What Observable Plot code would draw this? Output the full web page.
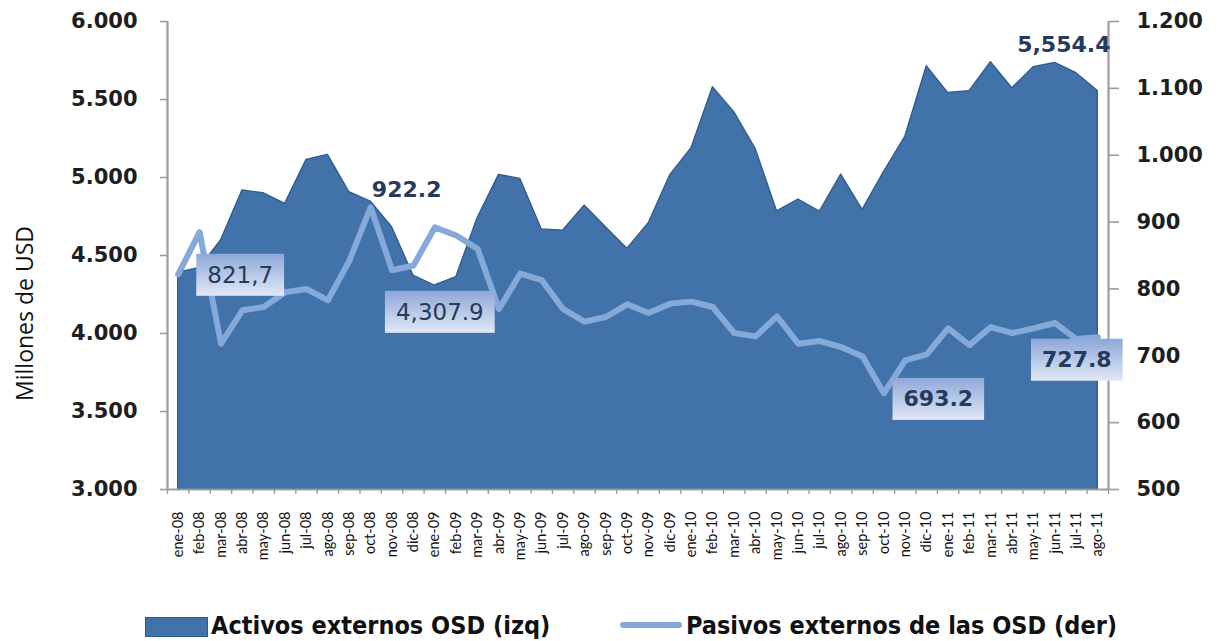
<!DOCTYPE html>
<html>
<head>
<meta charset="utf-8">
<script src="https://cdn.jsdelivr.net/npm/d3@7"></script>
<script src="https://cdn.jsdelivr.net/npm/@observablehq/plot@0.6"></script>
<style>
  html, body { margin: 0; padding: 0; background: #ffffff; }
  #wrap { position: relative; width: 1223px; height: 641px; overflow: hidden; }
  #chart { position: absolute; left: 0; top: 0; }
  .yax text { font-family: "DejaVu Sans", Verdana, sans-serif; font-size: 21px; font-weight: bold; fill: #1e1e1e; }
  .xax text { font-family: Lato, "DejaVu Sans Condensed", sans-serif; font-size: 14.5px; fill: #111; }
  .leg { position: absolute; top: 611px; font-family: "Liberation Sans Narrow", "DejaVu Sans Condensed", sans-serif; font-weight: bold; font-size: 25px; color: #111; white-space: nowrap; line-height: 30px; }
  .sw { position: absolute; }
</style>
</head>
<body>
<div id="wrap">
  <div id="chart"></div>
  <div class="sw" style="left:145px; top:617px; width:63px; height:20px; background:#4172aa; border:1px solid #2f5b8c; box-sizing:border-box;"></div>
  <div class="leg" id="leg1" style="left:211px;">Activos externos OSD (izq)</div>
  <div class="sw" style="left:620px; top:622px; width:62px; height:6px; background:#85aad9; border-radius:3px;"></div>
  <div class="leg" id="leg2" style="left:686px;">Pasivos externos de las OSD (der)</div>
</div>
<script>
// ---- data ----
const months = ["ene-08","feb-08","mar-08","abr-08","may-08","jun-08","jul-08","ago-08","sep-08","oct-08","nov-08","dic-08",
  "ene-09","feb-09","mar-09","abr-09","may-09","jun-09","jul-09","ago-09","sep-09","oct-09","nov-09","dic-09",
  "ene-10","feb-10","mar-10","abr-10","may-10","jun-10","jul-10","ago-10","sep-10","oct-10","nov-10","dic-10",
  "ene-11","feb-11","mar-11","abr-11","may-11","jun-11","jul-11","ago-11"];
const activos = [4390, 4420, 4596, 4917, 4899, 4831, 5113, 5145, 4906, 4846, 4681, 4372,
  4307.9, 4361, 4740, 5017, 4991, 4667, 4660, 4820, 4681, 4543, 4707, 5013,
  5188, 5579, 5419, 5184, 4784, 4859, 4782, 5019, 4793, 5034, 5263, 5713,
  5543, 5553, 5739, 5572, 5707, 5735, 5669, 5554.4];
const pasivos = [821.7, 885, 718, 768, 773, 795, 800, 783, 842, 922.2, 828, 835,
  892, 880, 860, 770, 823, 813, 770, 751, 758, 777, 764, 778,
  781, 773, 734, 729, 759, 718, 722, 713, 699, 644, 693.2, 702,
  741, 716, 743, 734, 741, 749, 725, 727.8];
const leftTicks = [3000, 3500, 4000, 4500, 5000, 5500, 6000];
const rightTicks = [500, 600, 700, 800, 900, 1000, 1100, 1200];
const labelMonths = ["ene-08", "ene-09", "oct-08", "nov-10", "ago-11", "ago-11"];
const labelSeries = ["pasivos", "activos", "pasivos", "pasivos", "pasivos", "activos"];
const labelTexts = ["821,7", "4,307.9", "922.2", "693.2", "727.8", "5,554.4"];

// ---- helpers ----
const leftDom = [3000, 6000], rightDom = [500, 1200];
const toLeft = v => leftDom[0] + (v - rightDom[0]) * (leftDom[1] - leftDom[0]) / (rightDom[1] - rightDom[0]);
const fromLeft = v => rightDom[0] + (v - leftDom[0]) * (rightDom[1] - rightDom[0]) / (leftDom[1] - leftDom[0]);
const loc = d3.formatLocale({decimal: ",", thousands: ".", grouping: [3], currency: ["", ""]});
const fmt = loc.format(",d");

const data = months.map((m, i) => ({i, m, a: activos[i], p: pasivos[i]}));

// annotation styles (offsets in px from the point)
const annStyle = [
  {dx: 62, dy: 1, boxed: true, bold: false},
  {dx: 5, dy: 27, boxed: true, bold: false},
  {dx: 36, dy: -17, boxed: false, bold: true},
  {dx: 33, dy: 39, boxed: true, bold: true},
  {dx: -21, dy: 23, boxed: true, bold: true},
  {dx: -34, dy: -46, boxed: false, bold: true}
];
const annMarks = labelTexts.map((t, k) => {
  const i = months.indexOf(labelMonths[k]);
  const yv = labelSeries[k] === "activos" ? activos[i] : toLeft(pasivos[i]);
  const s = annStyle[k];
  return Plot.text([{x: i, y: yv, t}], {
    x: "x", y: "y", text: "t", dx: s.dx, dy: s.dy,
    fontFamily: "DejaVu Sans, Verdana, sans-serif",
    fontSize: s.bold ? 22 : 23, fontWeight: s.bold ? "bold" : "normal",
    fill: "#253a5c", textAnchor: "middle", lineAnchor: "middle",
    className: s.boxed ? "boxed" : "plain"
  });
});

const W = 1223, H = 580;
const plot = Plot.plot({
  width: W, height: H,
  marginLeft: 167, marginRight: W - 1108, marginTop: 21, marginBottom: H - 489,
  x: {type: "linear", domain: [-0.5, months.length - 0.5]},
  y: {type: "linear", domain: leftDom},
  style: {background: "transparent", overflow: "visible"},
  marks: [
    Plot.area(data, {x1: "i", y1: () => leftDom[0], y2: "a", fill: "#4172aa", stroke: "#2f5b8c", strokeWidth: 1.3}),
    Plot.line(data, {x: "i", y: d => toLeft(d.p), stroke: "#85aad9", strokeWidth: 6, strokeLinejoin: "round"}),
    Plot.ruleX([-0.5, months.length - 0.5], {stroke: "#9d9d9d", strokeWidth: 2.2}),
    Plot.ruleY([leftDom[0]], {stroke: "#9d9d9d", strokeWidth: 2.2}),
    Plot.axisY({anchor: "left", ticks: leftTicks, tickFormat: fmt, tickSize: 7, tickPadding: 23,
      stroke: "#9d9d9d", strokeWidth: 1.6, label: null, className: "yax"}),
    Plot.axisY({anchor: "right", ticks: rightTicks.map(toLeft), tickFormat: d => fmt(Math.round(fromLeft(d))),
      tickSize: 10, tickPadding: 18, stroke: "#9d9d9d", strokeWidth: 1.6, label: null, className: "yax"}),
    Plot.axisX({ticks: d3.range(months.length), tickFormat: i => months[i], tickRotate: -90,
      tickSize: 0, tickPadding: 22, label: null, className: "xax"}),
    Plot.axisX({ticks: d3.range(months.length + 1).map(k => k - 0.5), tickFormat: () => "",
      tickSize: 5, stroke: "#9d9d9d", strokeWidth: 1.4, label: null}),
    Plot.text(["Millones de USD"], {frameAnchor: "left", rotate: -90, dx: -142, dy: 58,
      fontFamily: "Open Sans, sans-serif", fontSize: 23, fill: "#111", textAnchor: "middle", lineAnchor: "middle"}),
    ...annMarks
  ]
});
document.getElementById("chart").appendChild(plot);

// gradient boxes behind boxed labels
const svg = d3.select(plot);
const defs = svg.insert("defs", ":first-child");
const grad = defs.append("linearGradient").attr("id", "boxgrad").attr("x1", 0).attr("y1", 0).attr("x2", 0).attr("y2", 1);
grad.append("stop").attr("offset", "0%").attr("stop-color", "#8ea8d8");
grad.append("stop").attr("offset", "100%").attr("stop-color", "#e1e8f6");
svg.selectAll("g.boxed text").each(function() {
  const bb = this.getBBox();
  const cy = bb.y + bb.height / 2;
  d3.select(this.parentNode).insert("rect", () => this)
    .attr("x", bb.x - 11).attr("y", cy - 21)
    .attr("width", bb.width + 22).attr("height", 42)
    .attr("transform", this.getAttribute("transform"))
    .attr("fill", "url(#boxgrad)");
});
</script>
</body>
</html>
